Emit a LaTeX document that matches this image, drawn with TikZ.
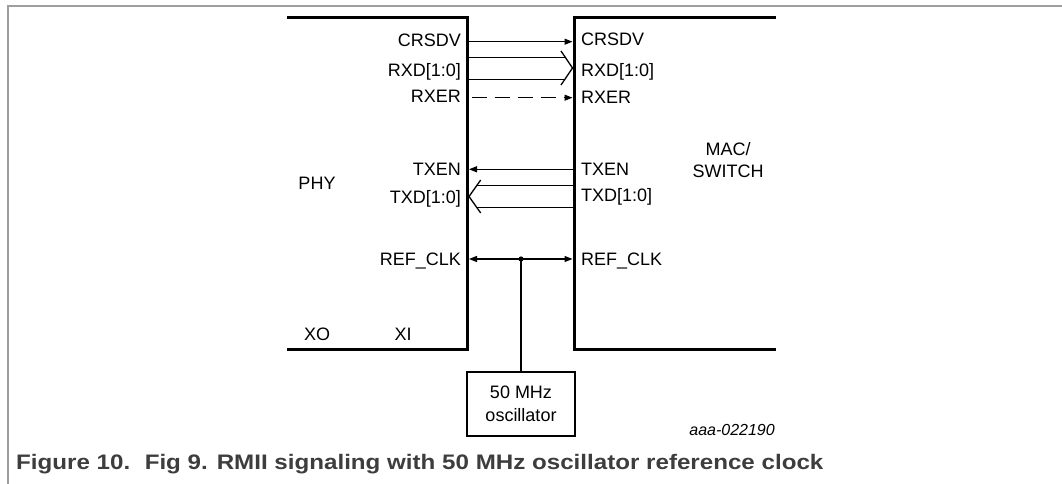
\documentclass[tikz,border=0pt]{standalone}
\usepackage{fontspec}
\setmainfont{Liberation Sans}
\usetikzlibrary{arrows.meta}
\begin{document}
\begin{tikzpicture}[x=1pt,y=-1pt,
  lbl/.style={inner sep=0pt, font=\fontsize{18}{22.5}\selectfont},
  boxline/.style={line width=3pt, line cap=rect},
  sig/.style={line width=1.3pt},
  tip/.style={-{Triangle[length=8pt,width=6pt]}, shorten >=1.5pt},
  frameline/.style={draw=black!38, line width=2pt},
  blk/.style={inner sep=0pt, outer sep=0pt, anchor=north west, draw=none}
]
\useasboundingbox (0,0) rectangle (1062,484);
% outer frame
\draw[frameline] (8,484) -- (8,6.5) -- (1062,6.5);

% blocks
\node[blk, minimum width=179.5pt, minimum height=331pt] (phy) at (288,18) {};
\node[blk, minimum width=200pt, minimum height=331pt] (mac) at (574,18) {};
\draw[boxline] (phy.north west) -- (phy.north east) -- (phy.south east) -- (phy.south west);
\draw[boxline] (mac.north east) -- (mac.north west) -- (mac.south west) -- (mac.south east);

% oscillator
\node[draw, line width=2.3pt, minimum width=108pt, minimum height=63.5pt, inner sep=0pt,
      align=center, font=\fontsize{18}{22.7}\selectfont] (osc) at (521,404) {50 MHz\\oscillator};

% block labels
\node[lbl, anchor=base] (phyname) at (317,189.3) {PHY};
\node[lbl, anchor=base, align=center] (macname) at (728,177.7) {MAC/\\SWITCH};
\node[lbl, anchor=base] (xo) at (317,340) {XO};
\node[lbl, anchor=base] (xi) at (403,340) {XI};

% PHY side pin labels
\node[lbl, anchor=base east] (lcrs) at (461,46.7) {CRSDV};
\node[lbl, anchor=base east] (lrxd) at (461,76.7) {RXD[1:0]};
\node[lbl, anchor=base east] (lrxer) at (461,102.5) {RXER};
\node[lbl, anchor=base east] (ltxen) at (461,175.7) {TXEN};
\node[lbl, anchor=base east] (ltxd) at (461,203.3) {TXD[1:0]};
\node[lbl, anchor=base east] (lref) at (461,265) {REF\_CLK};

% MAC side pin labels
\node[lbl, anchor=base west] (rcrs) at (581,46) {CRSDV};
\node[lbl, anchor=base west] (rrxd) at (581,76.7) {RXD[1:0]};
\node[lbl, anchor=base west] (rrxer) at (581,103.3) {RXER};
\node[lbl, anchor=base west] (rtxen) at (581,175) {TXEN};
\node[lbl, anchor=base west] (rtxd) at (581,201.7) {TXD[1:0]};
\node[lbl, anchor=base west] (rref) at (581,265) {REF\_CLK};

% CRSDV
\draw[sig, tip] (phy.east |- 0,41.7) -- (mac.west |- 0,41.7);
% RXD bus
\coordinate (rxtip) at (572.5,68);
\draw[sig] (phy.east |- 0,57.3) -- (565.3,57.3);
\draw[sig] (phy.east |- 0,79.2) -- (565.1,79.2);
\draw[sig] ([shift={(-11.5,-17)}]rxtip) -- (rxtip) -- ([shift={(-11.5,17)}]rxtip);
% RXER
\draw[sig, tip, dash pattern=on 15pt off 8pt, dash phase=-4pt] (phy.east |- 0,97.7) -- (mac.west |- 0,97.7);
% TXEN
\draw[sig, tip] (mac.west |- 0,169.3) -- (phy.east |- 0,169.3);
% TXD bus
\coordinate (txtip) at (469,196.5);
\draw[sig] (mac.west |- 0,185.7) -- (476.7,185.7);
\draw[sig] (mac.west |- 0,207.3) -- (476.7,207.3);
\draw[sig] ([shift={(11.7,-16.5)}]txtip) -- (txtip) -- ([shift={(11.7,16.5)}]txtip);
% REF_CLK
\coordinate (junc) at (521,259);
\draw[sig, {Triangle[length=8pt,width=6pt]}-{Triangle[length=8pt,width=6pt]}, shorten <=1.5pt, shorten >=1.5pt]
  (phy.east |- junc) -- (mac.west |- junc);
\fill (junc) circle (2.6pt);
\draw[sig] (junc) -- (osc.north);

% id and caption
\node[inner sep=0pt, anchor=base east, font=\fontsize{16}{18}\selectfont\itshape] (fid) at (775,435) {aaa-022190};
\node[inner sep=0pt, anchor=base west, text=black!76, font=\fontsize{21}{23}\selectfont\bfseries] (cap) at (16,469.5)
  {\scalebox{1.15}[1]{Figure 10.\hspace{0.6em}Fig 9. RMII signaling with 50 MHz oscillator reference clock}};
\end{tikzpicture}
\end{document}
